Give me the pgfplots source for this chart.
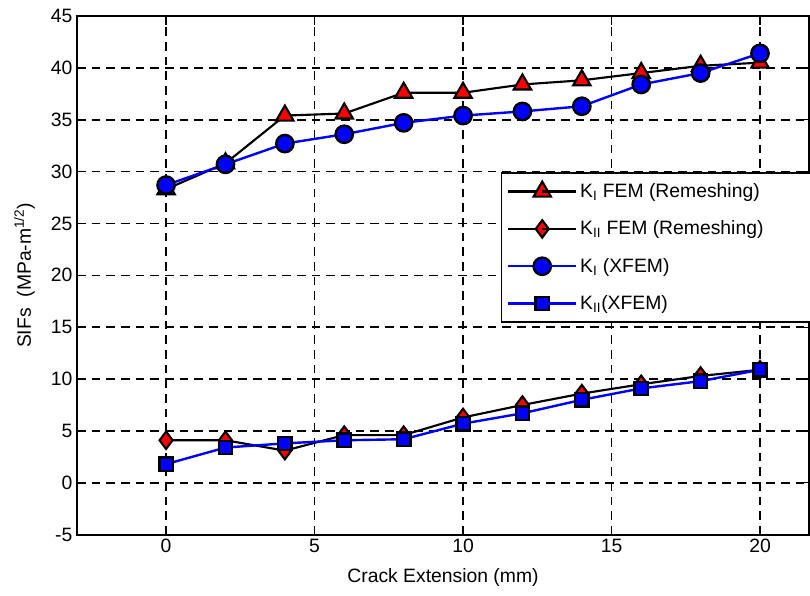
\documentclass[border=0pt]{standalone}
\usepackage{pgfplots}
\pgfplotsset{compat=1.18}
\usepackage{fontspec}
\setmainfont{Liberation Sans}
\newcommand{\fs}{\fontsize{14.5}{17}\selectfont}
\begin{document}
\begin{tikzpicture}
\begin{axis}[
  scale only axis,
  width=549pt, height=389pt,
  xmin=-3, xmax=21.65, ymin=-5, ymax=45,
  xtick={0,5,10,15,20}, ytick={-5,0,5,...,45},
  tick align=inside, major tick length=6.5pt,
  tick style={black, line width=1pt},
  axis line style={line width=1.5pt},
  grid=major,
  major grid style={black, dash pattern=on 6.5pt off 4.5pt, line width=1.2pt},
  tick label style={font=\fs},
  label style={font=\fs},
  /pgf/number format/assume math mode=true,
  xlabel={Crack Extension (mm)},
  ylabel={SIFs\ \ (MPa-m\textsuperscript{1/2})},
  xlabel style={yshift=-5pt},
  ylabel style={yshift=5pt},
  legend style={at={(0.579,0.699)}, anchor=north west, draw=black, line width=1.2pt,
    font=\fs, row sep=12pt, inner ysep=6pt, inner xsep=4pt,
    legend cell align=left},
  legend image code/.code={
    \draw[#1, line width=1.7pt] (0cm,0cm) -- (0.9cm,0cm);
    \draw[#1, only marks] plot coordinates {(0.9cm,0cm)};
    \draw[#1, line width=1.7pt] (0.9cm,0cm) -- (1.8cm,0cm);
  },
]
\addplot[black, line width=1.6pt, mark=triangle*, mark size=7.5pt,
  mark options={fill=red, draw=black, line width=1.6pt}]
  coordinates {(0,28.3) (2,30.8) (4,35.4) (6,35.6) (8,37.6) (10,37.6) (12,38.4) (14,38.8) (16,39.5) (18,40.2) (20,40.5)};
\addlegendentry{\makebox[180pt][l]{K\textsubscript{I} FEM (Remeshing)}}
\addplot[black, line width=1.6pt, mark=diamond*, mark size=6.5pt,
  mark options={fill=red, draw=black, line width=1.6pt}]
  coordinates {(0,4.1) (2,4.1) (4,3.1) (6,4.6) (8,4.6) (10,6.3) (12,7.5) (14,8.6) (16,9.5) (18,10.3) (20,10.9)};
\addlegendentry{K\textsubscript{II} FEM (Remeshing)}
\addplot[blue, line width=1.8pt, mark=*, mark size=6.5pt,
  mark options={fill=blue, draw=black, line width=1.8pt}]
  coordinates {(0,28.7) (2,30.7) (4,32.7) (6,33.6) (8,34.7) (10,35.4) (12,35.8) (14,36.3) (16,38.4) (18,39.5) (20,41.4)};
\addlegendentry{K\textsubscript{I} (XFEM)}
\addplot[blue, line width=1.8pt, mark=square*, mark size=5pt,
  mark options={fill=blue, draw=black, line width=1.8pt}]
  coordinates {(0,1.8) (2,3.4) (4,3.8) (6,4.1) (8,4.2) (10,5.7) (12,6.7) (14,8.0) (16,9.1) (18,9.8) (20,10.9)};
\addlegendentry{K\textsubscript{II}(XFEM)}
\end{axis}
\pgfresetboundingbox
\path[use as bounding box] (-57.75pt,-45.75pt) rectangle (549.75pt,401pt);
\end{tikzpicture}
\end{document}
